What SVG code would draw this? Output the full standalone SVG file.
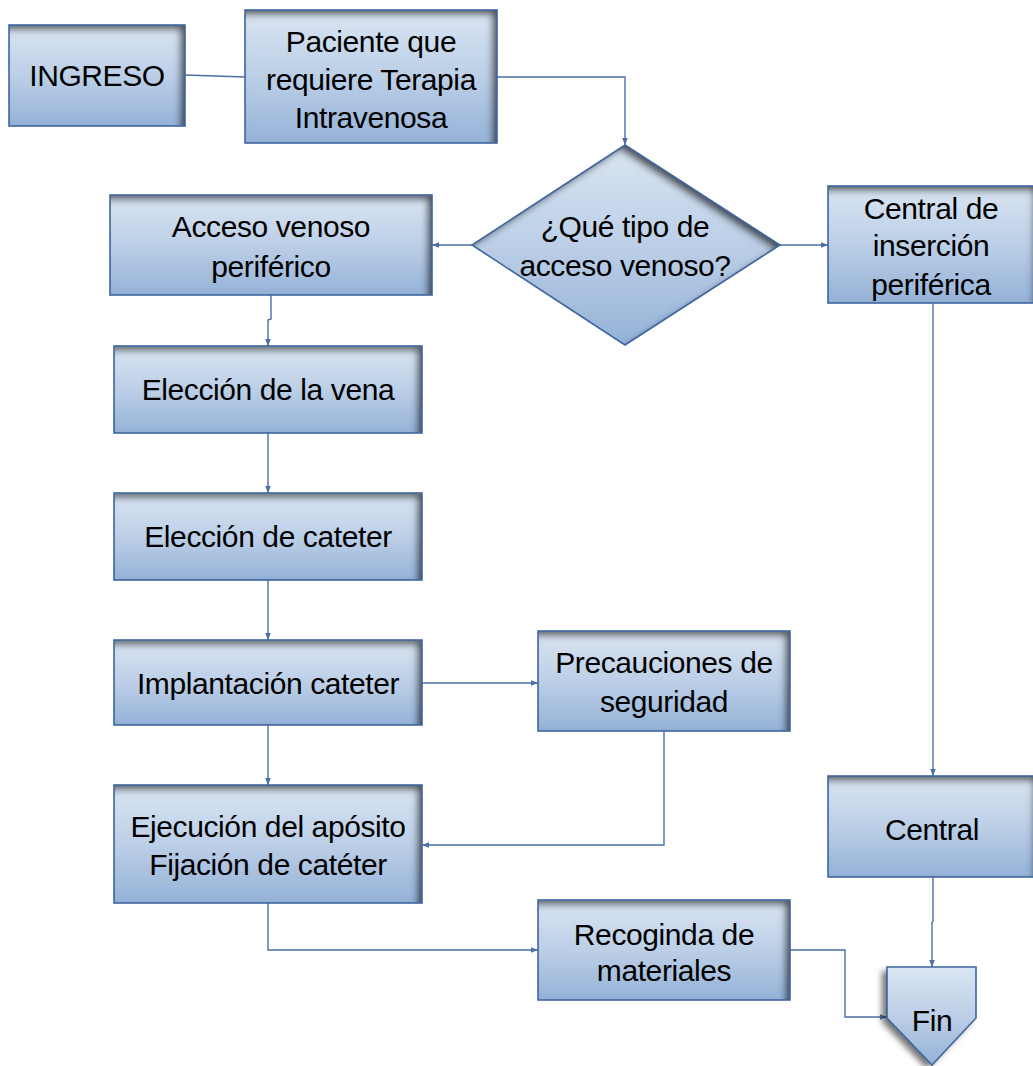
<svg xmlns="http://www.w3.org/2000/svg" width="1033" height="1066" viewBox="0 0 1033 1066">
<defs>
<linearGradient id="g" x1="0" y1="0" x2="0" y2="1">
<stop offset="0" stop-color="#dae5f2"/>
<stop offset="0.5" stop-color="#bccfe7"/>
<stop offset="1" stop-color="#94b2d7"/>
</linearGradient>
<filter id="inner" x="-10%" y="-10%" width="120%" height="120%">
<feFlood flood-color="#1a1a1a" flood-opacity="0.9" result="f"/>
<feComposite in="f" in2="SourceAlpha" operator="out" result="o"/>
<feOffset in="o" dx="-5" dy="5" result="off"/>
<feGaussianBlur in="off" stdDeviation="3.5" result="b"/>
<feComposite in="b" in2="SourceAlpha" operator="in" result="sh"/>
<feMerge><feMergeNode in="SourceGraphic"/><feMergeNode in="sh"/></feMerge>
</filter>
<filter id="drop" x="-30%" y="-20%" width="160%" height="140%">
<feGaussianBlur in="SourceAlpha" stdDeviation="3" result="b"/>
<feOffset in="b" dx="-5" dy="4" result="o"/>
<feFlood flood-color="#000" flood-opacity="0.55"/>
<feComposite in2="o" operator="in" result="s"/>
<feMerge><feMergeNode in="s"/><feMergeNode in="SourceGraphic"/></feMerge>
</filter>
<marker id="arr" viewBox="0 0 10 10" refX="10" refY="5" markerWidth="7" markerHeight="7" markerUnits="userSpaceOnUse" orient="auto">
<path d="M0,1 L10,5 L0,9 Z" fill="#4a6fa5"/>
</marker>
<style>
.shape{fill:url(#g);filter:url(#inner);}
.edge{fill:none;stroke:#3f66a0;stroke-width:1.6;}
.t{font-family:"Liberation Sans",Arial,sans-serif;font-size:30px;fill:#000;text-anchor:middle;letter-spacing:-0.4px;}
.c{fill:none;stroke:#4a6fa5;stroke-width:1.4;}
</style>
</defs>

<g id="connectors">
<path class="c" d="M185,75 L245,77"/>
<path class="c" d="M497,77 L625,77 L625,145" marker-end="url(#arr)"/>
<path class="c" d="M472,245 L432,245" marker-end="url(#arr)"/>
<path class="c" d="M780,245 L828,245" marker-end="url(#arr)"/>
<path class="c" d="M271,295 L271,319 L268,320 L268,346" marker-end="url(#arr)"/>
<path class="c" d="M268,433 L268,493" marker-end="url(#arr)"/>
<path class="c" d="M268,580 L268,640" marker-end="url(#arr)"/>
<path class="c" d="M422,683 L538,683" marker-end="url(#arr)"/>
<path class="c" d="M268,725 L268,785" marker-end="url(#arr)"/>
<path class="c" d="M664,731 L664,845 L422,845" marker-end="url(#arr)"/>
<path class="c" d="M268,903 L268,950 L538,950" marker-end="url(#arr)"/>
<path class="c" d="M790,950 L845,950 L845,1017 L887,1017" marker-end="url(#arr)"/>
<path class="c" d="M933,303 L933,776" marker-end="url(#arr)"/>
<path class="c" d="M933,877 L933,921 L932,922 L932,967" marker-end="url(#arr)"/>
</g>

<g id="ingreso">
<rect class="shape" x="9" y="25" width="176" height="101"/>
<rect class="edge" x="9" y="25" width="176" height="101"/>
<text class="t" x="97" y="86">INGRESO</text>
</g>

<g id="paciente">
<rect class="shape" x="245" y="10" width="252" height="133"/>
<rect class="edge" x="245" y="10" width="252" height="133"/>
<text class="t" x="371" y="52">Paciente que</text>
<text class="t" x="371" y="90">requiere Terapia</text>
<text class="t" x="371" y="128">Intravenosa</text>
</g>

<g id="decision">
<polygon class="shape" points="625,145 780,245 625,345 472,245"/>
<polygon class="edge" points="625,145 780,245 625,345 472,245"/>
<text class="t" x="625" y="237">¿Qué tipo de</text>
<text class="t" x="625" y="276">acceso venoso?</text>
</g>

<g id="acceso">
<rect class="shape" x="110" y="195" width="322" height="100"/>
<rect class="edge" x="110" y="195" width="322" height="100"/>
<text class="t" x="271" y="237">Acceso venoso</text>
<text class="t" x="271" y="277">periférico</text>
</g>

<g id="central-insercion">
<rect class="shape" x="828" y="186" width="210" height="117"/>
<rect class="edge" x="828" y="186" width="210" height="117"/>
<text class="t" x="931" y="219">Central de</text>
<text class="t" x="931" y="256">inserción</text>
<text class="t" x="931" y="295">periférica</text>
</g>

<g id="eleccion-vena">
<rect class="shape" x="114" y="346" width="308" height="87"/>
<rect class="edge" x="114" y="346" width="308" height="87"/>
<text class="t" x="268" y="400">Elección de la vena</text>
</g>

<g id="eleccion-cateter">
<rect class="shape" x="114" y="493" width="308" height="87"/>
<rect class="edge" x="114" y="493" width="308" height="87"/>
<text class="t" x="268" y="547">Elección de cateter</text>
</g>

<g id="implantacion">
<rect class="shape" x="114" y="640" width="308" height="85"/>
<rect class="edge" x="114" y="640" width="308" height="85"/>
<text class="t" x="268" y="694">Implantación cateter</text>
</g>

<g id="precauciones">
<rect class="shape" x="538" y="631" width="252" height="100"/>
<rect class="edge" x="538" y="631" width="252" height="100"/>
<text class="t" x="664" y="673">Precauciones de</text>
<text class="t" x="664" y="712">seguridad</text>
</g>

<g id="ejecucion">
<rect class="shape" x="114" y="785" width="308" height="118"/>
<rect class="edge" x="114" y="785" width="308" height="118"/>
<text class="t" x="268" y="837">Ejecución del apósito</text>
<text class="t" x="268" y="875">Fijación de catéter</text>
</g>

<g id="central">
<rect class="shape" x="828" y="776" width="210" height="101"/>
<rect class="edge" x="828" y="776" width="210" height="101"/>
<text class="t" x="932" y="840">Central</text>
</g>

<g id="recoginda">
<rect class="shape" x="538" y="900" width="252" height="100"/>
<rect class="edge" x="538" y="900" width="252" height="100"/>
<text class="t" x="664" y="945">Recoginda de</text>
<text class="t" x="664" y="981">materiales</text>
</g>

<g id="fin">
<polygon points="887,967 976,967 976,1018 932,1065 887,1018" fill="url(#g)" filter="url(#drop)"/>
<polygon class="edge" points="887,967 976,967 976,1018 932,1065 887,1018"/>
<text class="t" x="932" y="1031">Fin</text>
</g>
</svg>
